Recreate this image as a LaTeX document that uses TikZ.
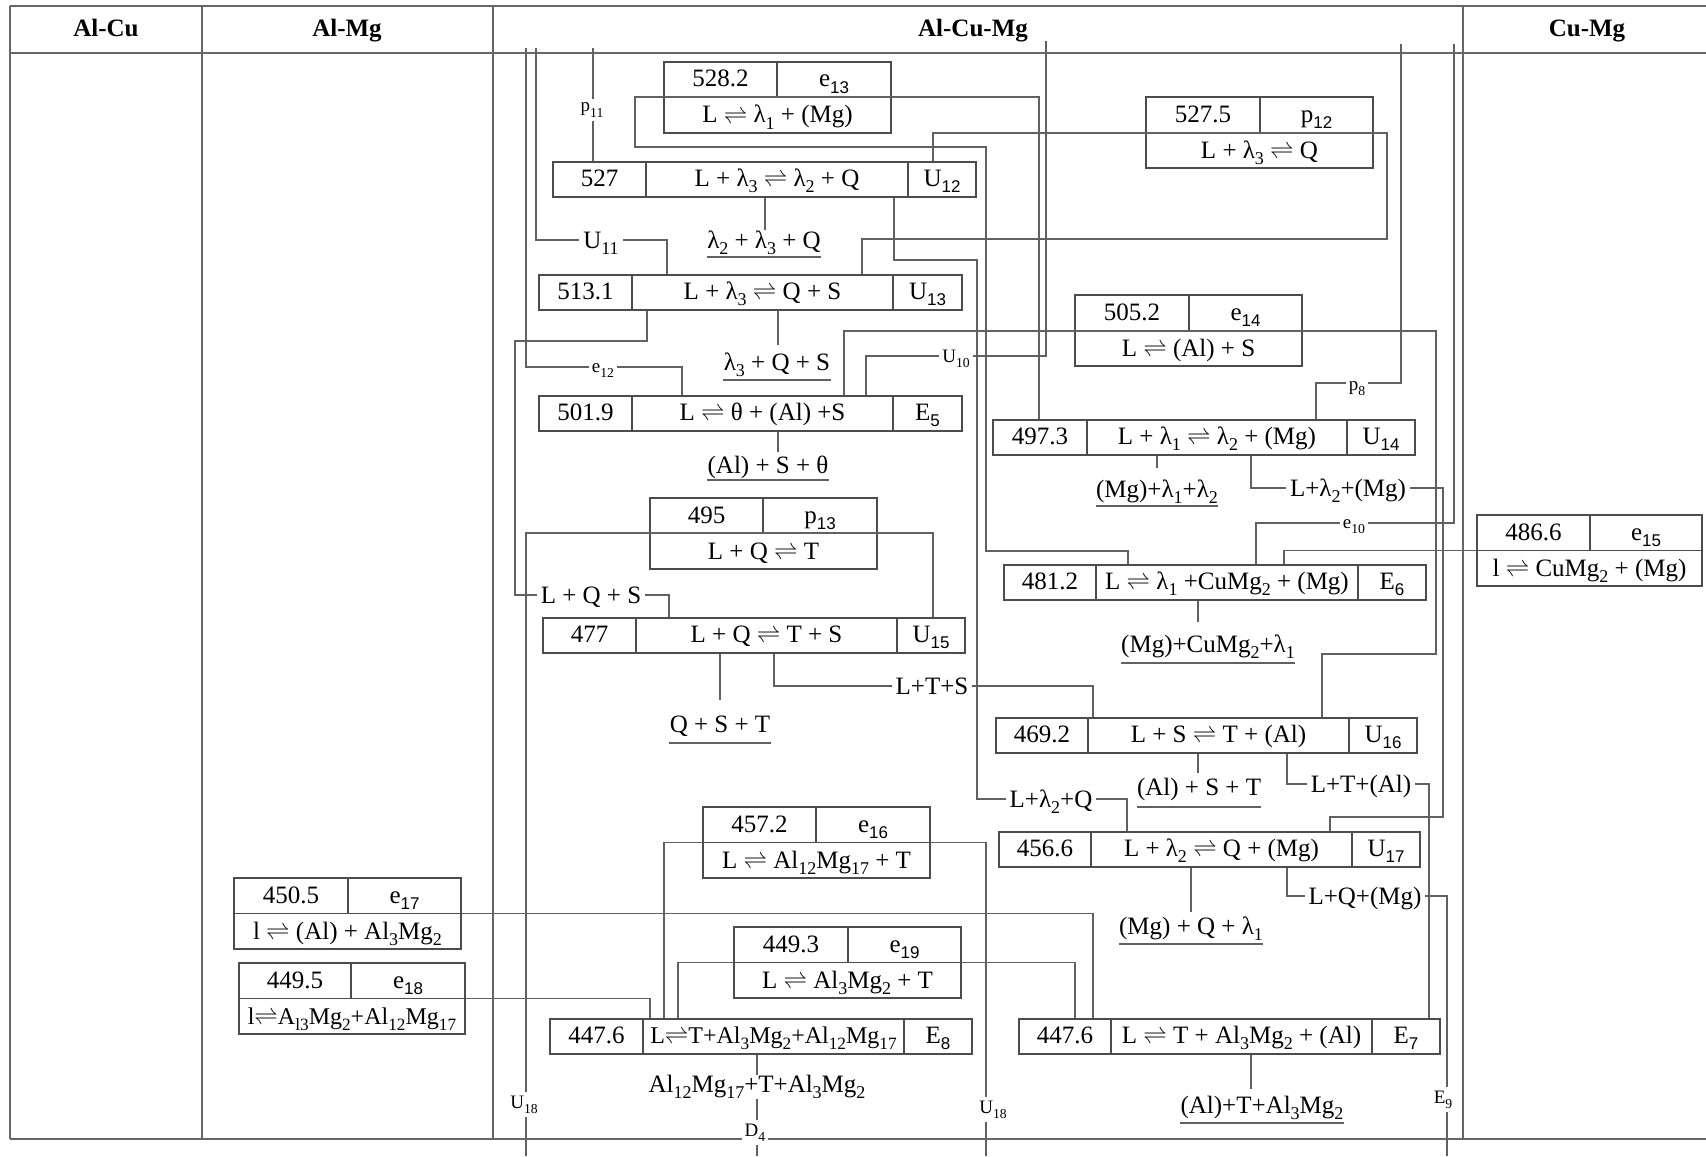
\documentclass[tikz,border=0pt]{standalone}
\usepackage{fontspec}
\setmainfont{Liberation Serif}
\newfontfamily\subsans{Liberation Sans}
\usetikzlibrary{fit}
\makeatletter
\newcommand\dn[1]{\raisebox{-0.27em}{\fontsize{\strip@pt\dimexpr0.72\dimexpr\f@size pt\relax\relax}{1}\selectfont #1}}
\newcommand\sdn[1]{\raisebox{-0.27em}{\fontsize{\strip@pt\dimexpr0.68\dimexpr\f@size pt\relax\relax}{1}\selectfont\subsans #1}}
\makeatother
\newcommand\eq{\ensuremath{\rightleftharpoons}}
\tikzset{
 frame/.style={draw=black!60, line width=0.7pt},
 bx/.style={draw=black!70, line width=0.6pt, inner sep=0pt},
 conn/.style={draw=black!62, line width=0.55pt},
 lab/.style={font=\fontsize{12.5}{15}\selectfont, inner sep=0pt, anchor=base},
 plab/.style={font=\fontsize{12.5}{15}\selectfont, inner sep=0pt, anchor=base},
 mlab/.style={font=\fontsize{12.5}{15}\selectfont, fill=white, inner xsep=2pt, inner ysep=1pt, anchor=base},
 slab/.style={font=\fontsize{9.5}{11}\selectfont, fill=white, inner xsep=1.5pt, inner ysep=2pt, anchor=base},
 hd/.style={font=\fontsize{12.5}{15}\selectfont\bfseries, inner sep=0pt, anchor=base},
}
% type A box: name x1 y1 x2 d1 d2 temp reaction code
\newcommand\boxA[9]{%
 \node[bx, fit={(#2,#3) (#4,#3+35)}] (#1) {};
 \draw[bx] (#5,#3) -- (#5,#3+35) (#6,#3) -- (#6,#3+35);
 \node[lab] (#1-t) at ({(#2+#5)/2},#3+24) {#7};
 \node[lab] (#1-r) at ({(#5+#6)/2},#3+24) {#8};
 \node[lab] (#1-c) at ({(#6+#4)/2},#3+24) {#9};
}
% type B box: name x1 y1 x2 xd temp code reaction
\newcommand\boxB[8]{%
 \node[bx, fit={(#2,#3) (#4,#3+71)}] (#1) {};
 \draw[bx] (#2,#3+35.5) -- (#4,#3+35.5) (#5,#3) -- (#5,#3+35.5);
 \node[lab] (#1-t) at ({(#2+#5)/2},#3+25) {#6};
 \node[lab] (#1-c) at ({(#5+#4)/2},#3+25) {#7};
 \node[lab] (#1-r) at ({(#2+#4)/2},#3+61) {#8};
}
\begin{document}
\begin{tikzpicture}[x=0.5pt,y=-0.5pt]
\fill[white] (0,0) rectangle (1706,1156);
\useasboundingbox (0,0) rectangle (1706,1156);
% frame
\draw[frame] (10,6) -- (1706,6);
\draw[frame] (10,53) -- (1706,53);
\draw[frame] (10,1139) -- (1706,1139);
\foreach \x in {10,202,493,1463} \draw[frame] (\x,6) -- (\x,1139);
\node[hd] (h1) at (106,37) {Al-Cu};
\node[hd] (h2) at (347,37) {Al-Mg};
\node[hd] (h3) at (973,37) {Al-Cu-Mg};
\node[hd] (h4) at (1587,37) {Cu-Mg};
% boxes
\boxA{U12}{553}{162}{976}{646}{908}{527}{L + λ\dn{3} \eq{} λ\dn{2} + Q}{U\sdn{12}}
\boxA{U13}{539}{275}{962}{632}{893}{513.1}{L + λ\dn{3} \eq{} Q + S}{U\sdn{13}}
\boxA{E5}{539}{396}{962}{632}{893}{501.9}{L \eq{} θ + (Al) +S}{E\sdn{5}}
\boxA{U15}{543}{618}{965}{636}{897}{477}{L + Q \eq{} T + S}{U\sdn{15}}
\boxA{U14}{993}{420}{1415}{1087}{1347}{497.3}{L + λ\dn{1} \eq{} λ\dn{2} + (Mg)}{U\sdn{14}}
\boxA{E6}{1004}{565}{1426}{1096}{1358}{481.2}{L \eq{} λ\dn{1} +CuMg\dn{2} + (Mg)}{E\sdn{6}}
\boxA{U16}{996}{718}{1417}{1088}{1349}{469.2}{L + S \eq{} T + (Al)}{U\sdn{16}}
\boxA{U17}{999}{832}{1420}{1091}{1352}{456.6}{L + λ\dn{2} \eq{} Q + (Mg)}{U\sdn{17}}
\boxA{E8}{550}{1019}{972}{643}{904}{447.6}{\fontsize{12}{14}\selectfont L\eq{}T+Al\dn{3}Mg\dn{2}+Al\dn{12}Mg\dn{17}}{E\sdn{8}}
\boxA{E7}{1019}{1019}{1440}{1111}{1372}{447.6}{L \eq{} T + Al\dn{3}Mg\dn{2} + (Al)}{E\sdn{7}}
\boxB{e13}{664}{62}{891}{777}{528.2}{e\sdn{13}}{L \eq{} λ\dn{1} + (Mg)}
\boxB{p12}{1146}{97}{1373}{1260}{527.5}{p\sdn{12}}{L + λ\dn{3} \eq{} Q}
\boxB{e14}{1075}{295}{1302}{1189}{505.2}{e\sdn{14}}{L \eq{} (Al) + S}
\boxB{p13}{650}{498}{877}{763}{495}{p\sdn{13}}{L + Q \eq{} T}
\boxB{e15}{1477}{515}{1702}{1590}{486.6}{e\sdn{15}}{l \eq{} CuMg\dn{2} + (Mg)}
\boxB{e16}{703}{807}{930}{816}{457.2}{e\sdn{16}}{L \eq{} Al\dn{12}Mg\dn{17} + T}
\boxB{e17}{234}{878}{461}{348}{450.5}{e\sdn{17}}{l \eq{} (Al) + Al\dn{3}Mg\dn{2}}
\boxB{e18}{239}{963}{465}{351}{449.5}{e\sdn{18}}{\fontsize{12}{14}\selectfont l\eq{}A\dn{l3}Mg\dn{2}+Al\dn{12}Mg\dn{17}}
\boxB{e19}{734}{927}{961}{848}{449.3}{e\sdn{19}}{L \eq{} Al\dn{3}Mg\dn{2} + T}
% free ends
\coordinate (top593) at (593,48);
\coordinate (top536) at (536,48);
\coordinate (top526) at (526,48);
\coordinate (top1046) at (1046,41);
\coordinate (top1401) at (1401,44);
\coordinate (top1454) at (1454,44);
% connectors
\draw[conn] (top593) -- (593,0 |- U12.north);
\draw[conn] (top536) |- (667,240) -- (667,0 |- U13.north);
\draw[conn] (top526) |- (682,367) -- (682,0 |- E5.north);
\draw[conn] (933,0 |- U15.north) |- (526,533) -- (526,1156);
\draw[conn] (647,0 |- U13.south) |- (515,341) |- (669,595) -- (669,0 |- U15.north);
\draw[conn] (1039,0 |- U14.north) |- (635,97) |- (986,147) |- (1128,551) -- (1128,0 |- E6.north);
\draw[conn] (933,0 |- U12.north) |- (1387,133) |- (862,239) -- (862,0 |- U13.north);
\draw[conn] (top1046) |- (866,356) -- (866,0 |- E5.north);
\draw[conn] (844,0 |- E5.north) |- (1436,331) |- (1322,654) -- (1322,0 |- U16.north);
\draw[conn] (top1401) |- (1316,383) -- (1316,0 |- U14.north);
\draw[conn] (top1454) |- (1256,523) -- (1256,0 |- E6.north);
\draw[conn] (e15.west) -| (1284,0 |- E6.north);
\draw[conn] (1251,0 |- U14.south) |- (1443,488) |- (1330,817) -- (1330,0 |- U17.north);
\draw[conn] (774,0 |- U15.south) |- (1093,686) -- (1093,0 |- U16.north);
\draw[conn] (894,0 |- U12.south) |- (977,260) |- (1127,799) -- (1127,0 |- U17.north);
\draw[conn] (1287,0 |- U16.south) |- (1429,784) -- (1429,0 |- E7.north);
\draw[conn] (1287,0 |- U17.south) |- (1447,896) -- (1447,1156);
\draw[conn] (e16.west) -| (664,0 |- E8.north);
\draw[conn] (e16.east) -| (986,1156);
\draw[conn] (e17.east) -| (1093,0 |- E7.north);
\draw[conn] (e18.east) -| (650,0 |- E8.north);
\draw[conn] (e19.west) -| (678,0 |- E8.north);
\draw[conn] (e19.east) -| (1075,0 |- E7.north);
\draw[conn] (757,0 |- E8.south) -- (757,1156);
% labels on lines
\node[slab] (lp11) at (592,112) {p\dn{11}};
\node[mlab] (lU11) at (601,248) {U\dn{11}};
\node[slab] (le12) at (603,372) {e\dn{12}};
\node[slab] (lU10) at (956,362) {U\dn{10}};
\node[slab] (lp8) at (1357,390) {p\dn{8}};
\node[slab] (le10) at (1354,528) {e\dn{10}};
\node[mlab] (lLQS) at (591,603) {L + Q + S};
\node[mlab] (lLTS) at (932,694) {L+T+S};
\node[mlab] (lLl2Q) at (1051,807) {L+λ\dn{2}+Q};
\node[mlab] (lLl2Mg) at (1348,496) {L+λ\dn{2}+(Mg)};
\node[mlab] (lLTAl) at (1361,792) {L+T+(Al)};
\node[mlab] (lLQMg) at (1365,904) {L+Q+(Mg)};
\node[slab] (lU18a) at (524,1108) {U\dn{18}};
\node[slab] (lU18b) at (993,1113) {U\dn{18}};
\node[slab] (lE9) at (1443,1103) {E\dn{9}};
\node[slab] (lD4) at (755,1136) {D\dn{4}};
\node[mlab, inner ysep=0pt] (pE8) at (757,1092) {Al\dn{12}Mg\dn{17}+T+Al\dn{3}Mg\dn{2}};
% product labels
\node[plab] (P1) at (764,248) {λ\dn{2} + λ\dn{3} + Q};
\node[plab] (P2) at (777,370) {λ\dn{3} + Q + S};
\node[plab] (P3) at (768,473) {(Al) + S + θ};
\node[plab] (P4) at (720,732) {Q + S + T};
\node[plab] (P5) at (1157,497) {(Mg)+λ\dn{1}+λ\dn{2}};
\node[plab] (P6) at (1208,652) {(Mg)+CuMg\dn{2}+λ\dn{1}};
\node[plab] (P7) at (1199,795) {(Al) + S + T};
\node[plab] (P8) at (1191,934) {(Mg) + Q + λ\dn{1}};
\node[plab] (P9) at (1262,1113) {(Al)+T+Al\dn{3}Mg\dn{2}};
\draw[conn] (765,0 |- U12.south) -- (765,230);
\draw[conn] (778,0 |- U13.south) -- (778,345);
\draw[conn] (778,0 |- E5.south) -- (778,452);
\draw[conn] (720,0 |- U15.south) -- (720,700);
\draw[conn] (1157,0 |- U14.south) -- (1157,468);
\draw[conn] (1198,0 |- E6.south) -- (1198,622);
\draw[conn] (1198,0 |- U16.south) -- (1198,773);
\draw[conn] (1191,0 |- U17.south) -- (1191,912);
\draw[conn] (1251,0 |- E7.south) -- (1251,1089);
\draw[conn] (P1.west |- 0,257) -- (P1.east |- 0,257);
\draw[conn] (P2.west |- 0,380) -- (P2.east |- 0,380);
\draw[conn] (P3.west |- 0,480) -- (P3.east |- 0,480);
\draw[conn] (P4.west |- 0,743) -- (P4.east |- 0,743);
\draw[conn] (P5.west |- 0,506) -- (P5.east |- 0,506);
\draw[conn] (P6.west |- 0,663) -- (P6.east |- 0,663);
\draw[conn] (P7.west |- 0,807) -- (P7.east |- 0,807);
\draw[conn] (P8.west |- 0,944) -- (P8.east |- 0,944);
\draw[conn] (P9.west |- 0,1123) -- (P9.east |- 0,1123);
\end{tikzpicture}
\end{document}
